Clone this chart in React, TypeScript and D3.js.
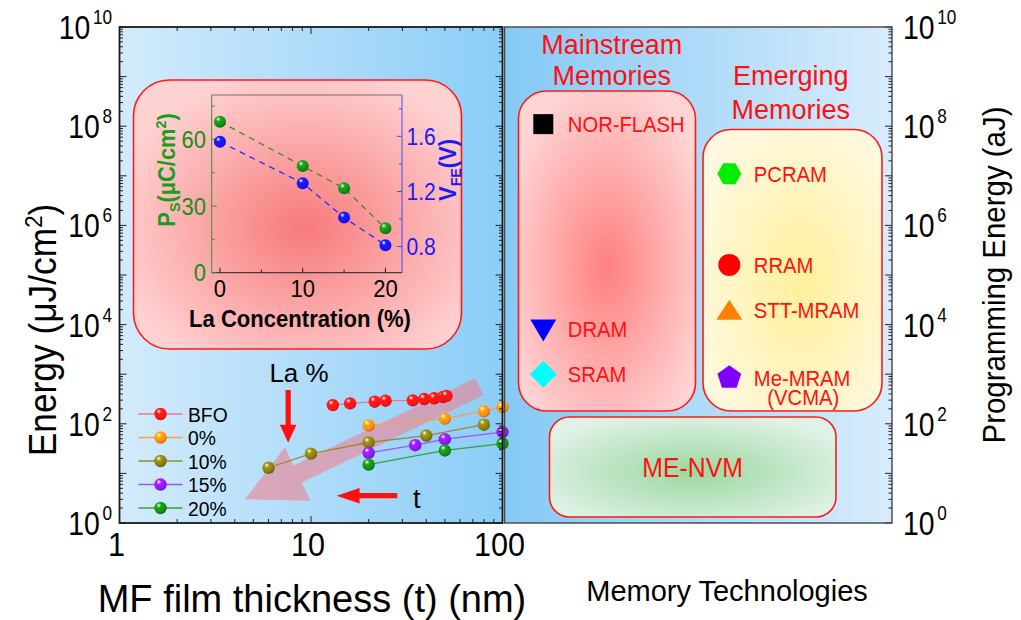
import React from "react";
import * as d3 from "d3";

// ---- Thickness-dependent switching energy (MF films) ----
const seriesNames = ["BFO", "0%", "10%", "15%", "20%"];
const bfoThickness = [13, 16, 21.5, 24.5, 34, 39, 44, 49, 51];
const bfoEnergy = [238, 258, 279, 292, 297, 316, 327, 347, 365];
const la0Thickness = [20, 50, 80, 100];
const la0Energy = [93, 127, 180, 217];
const la10Thickness = [6, 10, 20, 40, 80];
const la10Energy = [13, 25, 42, 58, 96];
const la15Thickness = [20, 35, 50, 100];
const la15Energy = [26, 37, 49, 68];
const la20Thickness = [20, 50, 100];
const la20Energy = [15, 29, 40];
const pointColors = ["#ff1414", "#ff8a10", "#857a12", "#8a18ff", "#148a14"];
const lineColors = ["#e97a86", "#f5a04c", "#968a3a", "#9d55ff", "#3d9e3d"];

// ---- Inset: polarization and coercive voltage vs La content ----
const laConcentration = [0, 10, 15, 20];
const psValues = [68, 48, 38, 20];
const vfeValues = [1.56, 1.26, 1.01, 0.81];
const psTicks = [0, 30, 60];
const vfeTicks = [0.8, 1.2, 1.6];
const laTicks = [0, 10, 20];

// ---- Axes ----
const energyExponents = [0, 2, 4, 6, 8, 10];
const thicknessTicks = [1, 10, 100];

// ---- Memory technologies (programming energy, aJ) ----
const memoryNames = ["NOR-FLASH", "DRAM", "SRAM", "PCRAM", "RRAM", "STT-MRAM", "Me-MRAM"];
const memoryGroup = ["Mainstream", "Mainstream", "Mainstream", "Emerging", "Emerging", "Emerging", "Emerging"];
const memoryEnergy = [1.1e8, 8e3, 1e3, 1.1e7, 1.6e5, 2e4, 8.5e2];
const memoryShapes = ["square", "triangleDown", "diamond", "hexagon", "circle", "triangle", "pentagon"];
const memoryColors = ["#000000", "#0000ff", "#00ffff", "#00ee00", "#ff0000", "#ff8000", "#8000ff"];

const FONT = "'Liberation Sans', Arial, Helvetica, sans-serif";

const W = 1021;
const H = 620;
const plotTop = 27;
const plotBottom = 523;
const leftX0 = 119.5;
const leftX1 = 502.5;
const rightX0 = 504.5;
const rightX1 = 892;

const x = d3.scaleLog().domain([1, 100]).range([leftX0, leftX1]);
const y = d3.scaleLog().domain([1, 1e10]).range([plotBottom, plotTop]);

const ix = d3.scaleLinear().domain([-1, 22]).range([211.7, 402]);
const iyPs = d3.scaleLinear().domain([0, 80]).range([272.7, 95]);
const iyV = d3.scaleLinear().domain([0.61, 1.9]).range([272.7, 95]);

const groupX = d3.scalePoint<string>().domain(["Mainstream", "Emerging"]).range([543.3, 729.3]);

function polygon(cx: number, cy: number, r: number, n: number, rot: number) {
  const pts: [number, number][] = d3.range(n).map((i) => {
    const a = rot + (i * 2 * Math.PI) / n;
    return [cx + r * Math.cos(a), cy + r * Math.sin(a)];
  });
  return "M" + pts.map((p) => p.join(",")).join("L") + "Z";
}

function shapePath(shape: string, cx: number, cy: number) {
  switch (shape) {
    case "square":
      return `M${cx - 10},${cy - 10}h20v20h-20Z`;
    case "triangleDown":
      return `M${cx - 13},${cy - 10}L${cx + 13},${cy - 10}L${cx},${cy + 12}Z`;
    case "triangle":
      return `M${cx - 13},${cy + 10}L${cx + 13},${cy + 10}L${cx},${cy - 10}Z`;
    case "diamond":
      return polygon(cx, cy, 13.5, 4, 0);
    case "hexagon":
      return polygon(cx, cy, 12, 6, Math.PI / 6 + Math.PI / 2);
    case "pentagon":
      return polygon(cx, cy, 12.5, 5, -Math.PI / 2);
    default:
      return "";
  }
}

function minorLogValues(lo: number, hi: number) {
  const vals: number[] = [];
  for (let e = lo; e < hi; e++) {
    for (let k = 2; k <= 9; k++) vals.push(k * Math.pow(10, e));
  }
  return vals;
}

// Text with optional horizontal squeeze
function SText(props: {
  x: number;
  y: number;
  sx?: number;
  size: number;
  anchor?: string;
  fill?: string;
  weight?: string | number;
  rotate?: number;
  children: React.ReactNode;
}) {
  const { x: tx, y: ty, sx = 1, size, anchor = "start", fill = "#000", weight = "normal", rotate = 0, children } = props;
  return (
    <text
      transform={`translate(${tx},${ty}) rotate(${rotate}) scale(${sx},1)`}
      textAnchor={anchor}
      fontSize={size}
      fill={fill}
      fontWeight={weight}
      fontFamily={FONT}
    >
      {children}
    </text>
  );
}

function Sphere({ cx, cy, r, id }: { cx: number; cy: number; r: number; id: string }) {
  return <circle cx={cx} cy={cy} r={r} fill={`url(#${id})`} />;
}

function SphereGradient({ id, color }: { id: string; color: string }) {
  const c = d3.color(color)!;
  return (
    <radialGradient id={id} cx="0.4" cy="0.35" r="0.65" fx="0.35" fy="0.28">
      <stop offset="0" stopColor="#ffffff" />
      <stop offset="0.3" stopColor={c.brighter(0.6).toString()} />
      <stop offset="0.8" stopColor={color} />
      <stop offset="1" stopColor={c.darker(0.8).toString()} />
    </radialGradient>
  );
}

// Wide arrow polygon from tail to tip in pixel space
function arrowPath(x0: number, y0: number, x1: number, y1: number, shaftHalf: number, headHalf: number, headLen: number) {
  const dx = x1 - x0;
  const dy = y1 - y0;
  const len = Math.hypot(dx, dy);
  const ux = dx / len;
  const uy = dy / len;
  const px = -uy;
  const py = ux;
  const bx = x1 - ux * headLen;
  const by = y1 - uy * headLen;
  const pts = [
    [x0 + px * shaftHalf, y0 + py * shaftHalf],
    [bx + px * shaftHalf, by + py * shaftHalf],
    [bx + px * headHalf, by + py * headHalf],
    [x1, y1],
    [bx - px * headHalf, by - py * headHalf],
    [bx - px * shaftHalf, by - py * shaftHalf],
    [x0 - px * shaftHalf, y0 - py * shaftHalf],
  ];
  return "M" + pts.map((p) => p.join(",")).join("L") + "Z";
}

export default function App() {
  const series = [
    { t: bfoThickness, e: bfoEnergy },
    { t: la0Thickness, e: la0Energy },
    { t: la10Thickness, e: la10Energy },
    { t: la15Thickness, e: la15Energy },
    { t: la20Thickness, e: la20Energy },
  ];
  const line = d3
    .line<[number, number]>()
    .x((d) => x(d[0]))
    .y((d) => y(d[1]));

  const yMinor = minorLogValues(0, 10);
  const xMinor = minorLogValues(0, 2);

  const psLine = d3
    .line<number>()
    .x((_, i) => ix(laConcentration[i]))
    .y((d) => iyPs(d));
  const vLine = d3
    .line<number>()
    .x((_, i) => ix(laConcentration[i]))
    .y((d) => iyV(d));

  const legendRows = [414, 437.5, 461, 484.5, 508];

  // annotation arrows (in data coordinates)
  const bigArrow = arrowPath(x(75.7), y(560), x(4.52), y(3.0), 9.5, 29.6, 58.5);
  const laArrow = arrowPath(x(7.6), y(480), x(7.6), y(41.6), 2.6, 8.3, 18);
  const tArrow = arrowPath(x(28.2), y(3.55), x(13.6), y(3.55), 2.6, 7.8, 23);

  return (
    <svg width={W} height={H} style={{ display: "block", position: "absolute", left: 0, top: 0 }}>
      <defs>
        <linearGradient id="bgLeft" x1="0" x2="1" y1="0" y2="0">
          <stop offset="0" stopColor="#d3ebfc" />
          <stop offset="1" stopColor="#8bcdf7" />
        </linearGradient>
        <linearGradient id="bgRight" x1="0" x2="1" y1="0" y2="0">
          <stop offset="0" stopColor="#84c9f5" />
          <stop offset="1" stopColor="#d8ecfc" />
        </linearGradient>
        <radialGradient id="insetFill" cx="0.52" cy="0.55" r="0.6">
          <stop offset="0" stopColor="#f77a7a" />
          <stop offset="1" stopColor="#ffd2d2" />
        </radialGradient>
        <radialGradient id="mainFill" cx="0.5" cy="0.55" r="0.6">
          <stop offset="0" stopColor="#ff8080" />
          <stop offset="1" stopColor="#ffd4d4" />
        </radialGradient>
        <radialGradient id="emergFill" cx="0.55" cy="0.55" r="0.6">
          <stop offset="0" stopColor="#fff09a" />
          <stop offset="1" stopColor="#fff8de" />
        </radialGradient>
        <radialGradient id="nvmFill" cx="0.5" cy="0.55" r="0.6">
          <stop offset="0" stopColor="#9ad89f" />
          <stop offset="1" stopColor="#e0f2e6" />
        </radialGradient>
        {pointColors.map((c, i) => (
          <SphereGradient key={i} id={`sph${i}`} color={c} />
        ))}
        <SphereGradient id="sphPs" color="#148a14" />
        <SphereGradient id="sphV" color="#1414ff" />
      </defs>

      <rect x={0} y={0} width={W} height={H} fill="#ffffff" />

      {/* Panel backgrounds */}
      <rect x={leftX0} y={plotTop} width={leftX1 - leftX0} height={plotBottom - plotTop} fill="url(#bgLeft)" />
      <rect x={rightX0} y={plotTop} width={rightX1 - rightX0} height={plotBottom - plotTop} fill="url(#bgRight)" />

      {/* Big trend arrow */}
      <path d={bigArrow} fill="#f08090" fillOpacity={0.6} />

      {/* Series lines and points */}
      {series.map((s, si) => (
        <g key={si}>
          <path
            d={line(s.t.map((t, i) => [t, s.e[i]] as [number, number]))!}
            fill="none"
            stroke={lineColors[si]}
            strokeWidth={1.3}
          />
          {s.t.map((t, i) => (
            <Sphere key={i} cx={x(t)} cy={y(s.e[i])} r={6.2} id={`sph${si}`} />
          ))}
        </g>
      ))}

      {/* Legend */}
      {seriesNames.map((n, i) => (
        <g key={n}>
          <line x1={138.5} x2={182.5} y1={legendRows[i]} y2={legendRows[i]} stroke={lineColors[i]} strokeWidth={1.3} />
          <Sphere cx={160.5} cy={legendRows[i]} r={6.2} id={`sph${i}`} />
          <SText x={188} y={legendRows[i] + 7.5} size={21} sx={0.92}>
            {n}
          </SText>
        </g>
      ))}

      {/* Red annotation arrows */}
      <path d={laArrow} fill="#ff1010" />
      <SText x={299} y={382} size={26} anchor="middle">
        La %
      </SText>
      <path d={tArrow} fill="#ff1010" />
      <SText x={413} y={508} size={27}>
        t
      </SText>

      {/* Inset box */}
      <rect x={133.5} y={80} width={328} height={269} rx={36} fill="url(#insetFill)" stroke="#ff1a1a" strokeWidth={1.6} />
      <g>
        <line x1={ix.range()[0]} x2={ix.range()[1]} y1={272.7} y2={272.7} stroke="#222" strokeWidth={1} />
        <line x1={ix.range()[0]} x2={ix.range()[1]} y1={95} y2={95} stroke="#555" strokeWidth={0.8} />
        <line x1={ix.range()[0]} x2={ix.range()[0]} y1={95} y2={272.7} stroke="#3d8f3d" strokeWidth={1} />
        <line x1={ix.range()[1]} x2={ix.range()[1]} y1={95} y2={272.7} stroke="#4848ff" strokeWidth={1} />
        {[0, 15, 30, 45, 60, 75].map((v) => (
          <line key={v} x1={ix.range()[0]} x2={ix.range()[0] + (v % 30 === 0 ? 5 : 3)} y1={iyPs(v)} y2={iyPs(v)} stroke="#3d8f3d" />
        ))}
        {[0.8, 1.0, 1.2, 1.4, 1.6, 1.8].map((v, k) => (
          <line key={v} x1={ix.range()[1]} x2={ix.range()[1] - (k % 2 === 0 ? 5 : 3)} y1={iyV(v)} y2={iyV(v)} stroke="#4848ff" />
        ))}
        {[0, 5, 10, 15, 20].map((v) => (
          <line key={v} x1={ix(v)} x2={ix(v)} y1={272.7} y2={272.7 - (v % 10 === 0 ? 5 : 3)} stroke="#222" />
        ))}
        {psTicks.map((v) => (
          <SText key={v} x={206} y={iyPs(v) + 8.5} size={24} anchor="end" fill="#1c8c1c" sx={0.92}>
            {v}
          </SText>
        ))}
        {vfeTicks.map((v) => (
          <SText key={v} x={406.5} y={iyV(v) + 8.5} size={24} fill="#1a1aff" sx={0.88}>
            {v.toFixed(1)}
          </SText>
        ))}
        {laTicks.map((v) => (
          <SText key={v} x={ix(v)} y={297} size={24} anchor="middle" sx={0.92}>
            {v}
          </SText>
        ))}
        <SText x={300} y={327} size={24} anchor="middle" weight="bold" sx={0.92}>
          La Concentration (%)
        </SText>
        <SText x={175} y={170} size={23} anchor="middle" weight="bold" fill="#1c9c1c" rotate={-90} sx={0.95}>
          P<tspan fontSize={15} dy={5}>S</tspan>
          <tspan dy={-5}>(μC/cm</tspan>
          <tspan fontSize={15} dy={-9}>2</tspan>
          <tspan dy={9}>)</tspan>
        </SText>
        <SText x={456} y={170} size={23} anchor="middle" weight="bold" fill="#1a1aff" rotate={-90} sx={0.95}>
          V<tspan fontSize={15} dy={5}>FE</tspan>
          <tspan dy={-5}>(V)</tspan>
        </SText>
        <path d={psLine(psValues)!} fill="none" stroke="#3d8f1d" strokeWidth={1.3} strokeDasharray="6,5" />
        <path d={vLine(vfeValues)!} fill="none" stroke="#2b2bff" strokeWidth={1.3} strokeDasharray="6,5" />
        {psValues.map((v, i) => (
          <Sphere key={i} cx={ix(laConcentration[i])} cy={iyPs(v)} r={6} id="sphPs" />
        ))}
        {vfeValues.map((v, i) => (
          <Sphere key={i} cx={ix(laConcentration[i])} cy={iyV(v)} r={6} id="sphV" />
        ))}
      </g>

      {/* Memory technology panel */}
      <rect x={518.5} y={91} width={177} height={320} rx={28} fill="url(#mainFill)" stroke="#ff1a1a" strokeWidth={1.6} />
      <rect x={703} y={129.5} width={179} height={281.5} rx={28} fill="url(#emergFill)" stroke="#ff1a1a" strokeWidth={1.6} />
      <rect x={549.5} y={417} width={286.5} height={100} rx={20} fill="url(#nvmFill)" stroke="#ff1a1a" strokeWidth={1.6} />
      <SText x={611.7} y={53.5} size={27} anchor="middle" fill="#ff1010">
        Mainstream
      </SText>
      <SText x={611.7} y={84.5} size={27} anchor="middle" fill="#ff1010">
        Memories
      </SText>
      <SText x={790.7} y={85} size={27} anchor="middle" fill="#ff1010">
        Emerging
      </SText>
      <SText x={790.7} y={118.5} size={27} anchor="middle" fill="#ff1010">
        Memories
      </SText>
      {memoryNames.map((n, i) => {
        const cx = groupX(memoryGroup[i])!;
        const cy = y(memoryEnergy[i]);
        const shape = memoryShapes[i];
        return (
          <g key={n}>
            {shape === "circle" ? (
              <circle cx={cx} cy={cy} r={11} fill={memoryColors[i]} />
            ) : (
              <path d={shapePath(shape, cx, cy)} fill={memoryColors[i]} />
            )}
            <SText x={cx + 24.5} y={cy + 8} size={22} fill="#ff1010" sx={0.92}>
              {n}
            </SText>
          </g>
        );
      })}
      <SText x={803.3} y={405} size={22} anchor="middle" fill="#ff1010" sx={0.92}>
        (VCMA)
      </SText>
      <SText x={692.7} y={477} size={27} anchor="middle" fill="#ff1010" sx={0.92}>
        ME-NVM
      </SText>

      {/* Axis ticks */}
      <g stroke="#222" strokeWidth={1}>
        {energyExponents.concat([1, 3, 5, 7, 9]).map((e) => {
          const yy = y(Math.pow(10, e));
          return (
            <g key={e}>
              <line x1={leftX0} x2={leftX0 + 7} y1={yy} y2={yy} />
              <line x1={leftX1} x2={leftX1 - 7} y1={yy} y2={yy} />
              <line x1={rightX1} x2={rightX1 - 7} y1={yy} y2={yy} />
            </g>
          );
        })}
        {yMinor.map((v) => {
          const yy = y(v);
          return (
            <g key={v}>
              <line x1={leftX0} x2={leftX0 + 3.5} y1={yy} y2={yy} />
              <line x1={leftX1} x2={leftX1 - 3.5} y1={yy} y2={yy} />
              <line x1={rightX1} x2={rightX1 - 3.5} y1={yy} y2={yy} />
            </g>
          );
        })}
        {thicknessTicks.map((t) => (
          <g key={t}>
            <line x1={x(t)} x2={x(t)} y1={plotBottom} y2={plotBottom - 7} />
            <line x1={x(t)} x2={x(t)} y1={plotTop} y2={plotTop + 7} />
          </g>
        ))}
        {xMinor.map((t) => (
          <g key={t}>
            <line x1={x(t)} x2={x(t)} y1={plotBottom} y2={plotBottom - 4} />
            <line x1={x(t)} x2={x(t)} y1={plotTop} y2={plotTop + 4} />
          </g>
        ))}
      </g>

      {/* Frames */}
      <rect x={leftX0} y={plotTop} width={leftX1 - leftX0} height={plotBottom - plotTop} fill="none" stroke="#1a1a1a" strokeWidth={1.8} />
      <rect x={rightX0} y={plotTop} width={rightX1 - rightX0} height={plotBottom - plotTop} fill="none" stroke="#444" strokeWidth={1.4} />

      {/* Axis tick labels */}
      {energyExponents.map((e) => {
        const yy = y(Math.pow(10, e));
        return (
          <g key={e}>
            <SText x={112} y={yy + 12} size={33} anchor="end" sx={0.86}>
              10<tspan fontSize={20} dx={3} dy={-15}>{e}</tspan>
            </SText>
            <SText x={903} y={yy + 12} size={33} sx={0.86}>
              10<tspan fontSize={20} dx={3} dy={-15}>{e}</tspan>
            </SText>
          </g>
        );
      })}
      {thicknessTicks.map((t) => (
        <SText key={t} x={x(t) - 3} y={556} size={34} anchor="middle" sx={0.9}>
          {t}
        </SText>
      ))}

      {/* Axis titles */}
      <SText x={56} y={330} size={38} anchor="middle" rotate={-90} sx={0.93}>
        Energy (μJ/cm<tspan fontSize={24} dy={-14}>2</tspan>
        <tspan dy={14}>)</tspan>
      </SText>
      <SText x={312} y={612} size={38} anchor="middle">
        MF film thickness (t) (nm)
      </SText>
      <SText x={727} y={601} size={29} anchor="middle">
        Memory Technologies
      </SText>
      <SText x={1005} y={275} size={32} anchor="middle" rotate={-90} sx={0.92}>
        Programming Energy (aJ)
      </SText>
    </svg>
  );
}
